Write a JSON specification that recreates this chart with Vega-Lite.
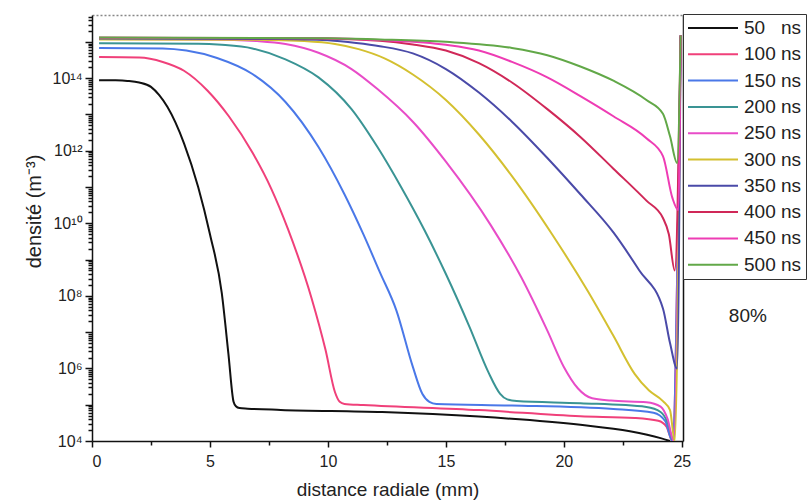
{
  "$schema": "https://vega.github.io/schema/vega-lite/v6.json",
  "width": 591,
  "height": 426,
  "autosize": {"type": "none"},
  "padding": {"left": 92, "top": 15, "right": 126, "bottom": 61},
  "config": {
    "view": {"stroke": null},
    "font": "Liberation Sans",
    "axis": {"labelFont": "Liberation Sans", "titleFont": "Liberation Sans", "labelColor": "#222", "titleColor": "#222", "domainColor": "#111", "tickColor": "#111", "grid": false, "titleFontWeight": "normal"}
  },
  "datasets": {
    "curves": [
      {"t": "50\u00a0\u00a0\u00a0ns", "r": 0.3, "n": 8.8e13},
      {"t": "50\u00a0\u00a0\u00a0ns", "r": 1.0, "n": 8.7e13},
      {"t": "50\u00a0\u00a0\u00a0ns", "r": 1.5, "n": 8.4e13},
      {"t": "50\u00a0\u00a0\u00a0ns", "r": 2.0, "n": 7.6e13},
      {"t": "50\u00a0\u00a0\u00a0ns", "r": 2.5, "n": 5.75e13},
      {"t": "50\u00a0\u00a0\u00a0ns", "r": 2.85, "n": 3.4e13},
      {"t": "50\u00a0\u00a0\u00a0ns", "r": 3.2, "n": 1.6e13},
      {"t": "50\u00a0\u00a0\u00a0ns", "r": 3.9, "n": 1.6e12},
      {"t": "50\u00a0\u00a0\u00a0ns", "r": 4.5, "n": 1.0e11},
      {"t": "50\u00a0\u00a0\u00a0ns", "r": 5.0, "n": 5.0e9},
      {"t": "50\u00a0\u00a0\u00a0ns", "r": 5.5, "n": 1.2e8},
      {"t": "50\u00a0\u00a0\u00a0ns", "r": 5.78, "n": 2.6e6},
      {"t": "50\u00a0\u00a0\u00a0ns", "r": 6.0, "n": 1.2e5},
      {"t": "50\u00a0\u00a0\u00a0ns", "r": 6.1, "n": 9.1e4},
      {"t": "50\u00a0\u00a0\u00a0ns", "r": 6.25, "n": 8.1e4},
      {"t": "50\u00a0\u00a0\u00a0ns", "r": 6.6, "n": 7.8e4},
      {"t": "50\u00a0\u00a0\u00a0ns", "r": 8.0, "n": 7.2e4},
      {"t": "50\u00a0\u00a0\u00a0ns", "r": 12.3, "n": 6.3e4},
      {"t": "50\u00a0\u00a0\u00a0ns", "r": 16.4, "n": 4.7e4},
      {"t": "50\u00a0\u00a0\u00a0ns", "r": 20.7, "n": 2.8e4},
      {"t": "50\u00a0\u00a0\u00a0ns", "r": 22.8, "n": 1.86e4},
      {"t": "50\u00a0\u00a0\u00a0ns", "r": 24.1, "n": 1.2e4},
      {"t": "50\u00a0\u00a0\u00a0ns", "r": 24.5, "n": 1.0e4},

      {"t": "100 ns", "r": 0.3, "n": 3.8e14},
      {"t": "100 ns", "r": 2.0, "n": 3.7e14},
      {"t": "100 ns", "r": 3.0, "n": 2.8e14},
      {"t": "100 ns", "r": 3.9, "n": 1.6e14},
      {"t": "100 ns", "r": 4.9, "n": 4.5e13},
      {"t": "100 ns", "r": 5.8, "n": 8.9e12},
      {"t": "100 ns", "r": 6.8, "n": 8.9e11},
      {"t": "100 ns", "r": 7.6, "n": 8.9e10},
      {"t": "100 ns", "r": 8.3, "n": 7.1e9},
      {"t": "100 ns", "r": 9.3, "n": 8.9e7},
      {"t": "100 ns", "r": 9.9, "n": 3.2e6},
      {"t": "100 ns", "r": 10.3, "n": 2.2e5},
      {"t": "100 ns", "r": 10.5, "n": 1.2e5},
      {"t": "100 ns", "r": 10.7, "n": 1.05e5},
      {"t": "100 ns", "r": 11.5, "n": 9.8e4},
      {"t": "100 ns", "r": 16.4, "n": 7.1e4},
      {"t": "100 ns", "r": 20.7, "n": 4.8e4},
      {"t": "100 ns", "r": 23.0, "n": 4.3e4},
      {"t": "100 ns", "r": 24.0, "n": 3.6e4},
      {"t": "100 ns", "r": 24.35, "n": 2.5e4},
      {"t": "100 ns", "r": 24.6, "n": 1.0e4},
      {"t": "100 ns", "r": 24.95, "n": 1.5e15},

      {"t": "150 ns", "r": 0.3, "n": 6.8e14},
      {"t": "150 ns", "r": 3.0, "n": 6.6e14},
      {"t": "150 ns", "r": 4.0, "n": 5.75e14},
      {"t": "150 ns", "r": 5.3, "n": 3.6e14},
      {"t": "150 ns", "r": 6.8, "n": 1.3e14},
      {"t": "150 ns", "r": 8.2, "n": 2.2e13},
      {"t": "150 ns", "r": 9.6, "n": 1.26e12},
      {"t": "150 ns", "r": 10.7, "n": 6.3e10},
      {"t": "150 ns", "r": 11.5, "n": 5.0e9},
      {"t": "150 ns", "r": 12.2, "n": 4.5e8},
      {"t": "150 ns", "r": 12.9, "n": 4.0e7},
      {"t": "150 ns", "r": 13.6, "n": 1.1e6},
      {"t": "150 ns", "r": 14.0, "n": 2.0e5},
      {"t": "150 ns", "r": 14.3, "n": 1.2e5},
      {"t": "150 ns", "r": 14.6, "n": 1.05e5},
      {"t": "150 ns", "r": 17.8, "n": 9.5e4},
      {"t": "150 ns", "r": 22.1, "n": 7.6e4},
      {"t": "150 ns", "r": 23.8, "n": 6.0e4},
      {"t": "150 ns", "r": 24.3, "n": 3.5e4},
      {"t": "150 ns", "r": 24.6, "n": 1.0e4},
      {"t": "150 ns", "r": 24.95, "n": 1.5e15},

      {"t": "200 ns", "r": 0.3, "n": 9.1e14},
      {"t": "200 ns", "r": 4.5, "n": 8.9e14},
      {"t": "200 ns", "r": 5.5, "n": 8.3e14},
      {"t": "200 ns", "r": 6.8, "n": 6.6e14},
      {"t": "200 ns", "r": 8.2, "n": 3.3e14},
      {"t": "200 ns", "r": 9.6, "n": 1.05e14},
      {"t": "200 ns", "r": 11.0, "n": 1.4e13},
      {"t": "200 ns", "r": 12.1, "n": 1.26e12},
      {"t": "200 ns", "r": 13.1, "n": 1.0e11},
      {"t": "200 ns", "r": 14.1, "n": 6.3e9},
      {"t": "200 ns", "r": 15.0, "n": 4.0e8},
      {"t": "200 ns", "r": 16.0, "n": 1.4e7},
      {"t": "200 ns", "r": 16.8, "n": 7.9e5},
      {"t": "200 ns", "r": 17.3, "n": 2.0e5},
      {"t": "200 ns", "r": 17.6, "n": 1.4e5},
      {"t": "200 ns", "r": 18.0, "n": 1.26e5},
      {"t": "200 ns", "r": 20.7, "n": 1.1e5},
      {"t": "200 ns", "r": 23.5, "n": 8.7e4},
      {"t": "200 ns", "r": 24.1, "n": 6.3e4},
      {"t": "200 ns", "r": 24.4, "n": 3.2e4},
      {"t": "200 ns", "r": 24.65, "n": 1.0e4},
      {"t": "200 ns", "r": 24.95, "n": 1.5e15},

      {"t": "250 ns", "r": 0.3, "n": 1.2e15},
      {"t": "250 ns", "r": 5.0, "n": 1.17e15},
      {"t": "250 ns", "r": 7.0, "n": 1.05e15},
      {"t": "250 ns", "r": 8.2, "n": 8.7e14},
      {"t": "250 ns", "r": 9.6, "n": 5.0e14},
      {"t": "250 ns", "r": 11.0, "n": 1.78e14},
      {"t": "250 ns", "r": 12.1, "n": 5.0e13},
      {"t": "250 ns", "r": 13.6, "n": 6.3e12},
      {"t": "250 ns", "r": 15.0, "n": 5.0e11},
      {"t": "250 ns", "r": 16.9, "n": 8.9e9},
      {"t": "250 ns", "r": 18.2, "n": 3.2e8},
      {"t": "250 ns", "r": 19.3, "n": 1.1e7},
      {"t": "250 ns", "r": 20.0, "n": 1.1e6},
      {"t": "250 ns", "r": 20.6, "n": 2.8e5},
      {"t": "250 ns", "r": 21.2, "n": 1.5e5},
      {"t": "250 ns", "r": 22.0, "n": 1.3e5},
      {"t": "250 ns", "r": 23.5, "n": 1.17e5},
      {"t": "250 ns", "r": 24.1, "n": 8.9e4},
      {"t": "250 ns", "r": 24.4, "n": 4.0e4},
      {"t": "250 ns", "r": 24.65, "n": 1.0e4},
      {"t": "250 ns", "r": 24.95, "n": 1.5e15},

      {"t": "300 ns", "r": 0.3, "n": 1.17e15},
      {"t": "300 ns", "r": 7.0, "n": 1.15e15},
      {"t": "300 ns", "r": 9.0, "n": 1.05e15},
      {"t": "300 ns", "r": 10.3, "n": 8.7e14},
      {"t": "300 ns", "r": 11.3, "n": 6.3e14},
      {"t": "300 ns", "r": 12.4, "n": 3.5e14},
      {"t": "300 ns", "r": 13.6, "n": 1.26e14},
      {"t": "300 ns", "r": 15.0, "n": 2.5e13},
      {"t": "300 ns", "r": 16.4, "n": 2.8e12},
      {"t": "300 ns", "r": 17.8, "n": 2.0e11},
      {"t": "300 ns", "r": 19.5, "n": 5.0e9},
      {"t": "300 ns", "r": 21.0, "n": 1.4e8},
      {"t": "300 ns", "r": 22.1, "n": 7.9e6},
      {"t": "300 ns", "r": 23.0, "n": 7.1e5},
      {"t": "300 ns", "r": 23.6, "n": 2.5e5},
      {"t": "300 ns", "r": 24.2, "n": 1.26e5},
      {"t": "300 ns", "r": 24.5, "n": 7.1e4},
      {"t": "300 ns", "r": 24.7, "n": 1.0e4},
      {"t": "300 ns", "r": 24.95, "n": 1.5e15},

      {"t": "350 ns", "r": 0.3, "n": 1.23e15},
      {"t": "350 ns", "r": 8.0, "n": 1.2e15},
      {"t": "350 ns", "r": 10.0, "n": 1.1e15},
      {"t": "350 ns", "r": 11.2, "n": 9.3e14},
      {"t": "350 ns", "r": 12.2, "n": 7.6e14},
      {"t": "350 ns", "r": 13.6, "n": 4.8e14},
      {"t": "350 ns", "r": 15.0, "n": 1.78e14},
      {"t": "350 ns", "r": 16.4, "n": 4.0e13},
      {"t": "350 ns", "r": 17.8, "n": 6.3e12},
      {"t": "350 ns", "r": 19.3, "n": 6.3e11},
      {"t": "350 ns", "r": 20.7, "n": 6.3e10},
      {"t": "350 ns", "r": 22.1, "n": 5.6e9},
      {"t": "350 ns", "r": 23.2, "n": 5.0e8},
      {"t": "350 ns", "r": 24.2, "n": 4.5e7},
      {"t": "350 ns", "r": 24.5, "n": 5.0e6},
      {"t": "350 ns", "r": 24.8, "n": 1.0e6},
      {"t": "350 ns", "r": 24.95, "n": 1.5e15},

      {"t": "400 ns", "r": 0.3, "n": 1.29e15},
      {"t": "400 ns", "r": 9.0, "n": 1.26e15},
      {"t": "400 ns", "r": 12.2, "n": 1.07e15},
      {"t": "400 ns", "r": 13.6, "n": 8.5e14},
      {"t": "400 ns", "r": 15.0, "n": 5.75e14},
      {"t": "400 ns", "r": 16.4, "n": 2.6e14},
      {"t": "400 ns", "r": 17.8, "n": 7.6e13},
      {"t": "400 ns", "r": 19.3, "n": 1.4e13},
      {"t": "400 ns", "r": 20.7, "n": 2.4e12},
      {"t": "400 ns", "r": 22.1, "n": 3.2e11},
      {"t": "400 ns", "r": 23.5, "n": 4.2e10},
      {"t": "400 ns", "r": 24.2, "n": 1.4e10},
      {"t": "400 ns", "r": 24.45, "n": 5.0e9},
      {"t": "400 ns", "r": 24.7, "n": 5.0e8},
      {"t": "400 ns", "r": 24.95, "n": 1.5e15},

      {"t": "450 ns", "r": 0.3, "n": 1.29e15},
      {"t": "450 ns", "r": 10.0, "n": 1.26e15},
      {"t": "450 ns", "r": 12.2, "n": 1.12e15},
      {"t": "450 ns", "r": 15.0, "n": 8.3e14},
      {"t": "450 ns", "r": 16.4, "n": 5.75e14},
      {"t": "450 ns", "r": 17.8, "n": 2.8e14},
      {"t": "450 ns", "r": 19.3, "n": 1.05e14},
      {"t": "450 ns", "r": 20.7, "n": 3.2e13},
      {"t": "450 ns", "r": 22.1, "n": 8.9e12},
      {"t": "450 ns", "r": 23.5, "n": 2.2e12},
      {"t": "450 ns", "r": 24.2, "n": 7.1e11},
      {"t": "450 ns", "r": 24.6, "n": 5.0e10},
      {"t": "450 ns", "r": 24.85, "n": 2.3e10},
      {"t": "450 ns", "r": 24.95, "n": 1.5e15},

      {"t": "500 ns", "r": 0.3, "n": 1.32e15},
      {"t": "500 ns", "r": 10.0, "n": 1.26e15},
      {"t": "500 ns", "r": 12.2, "n": 1.17e15},
      {"t": "500 ns", "r": 15.0, "n": 1.0e15},
      {"t": "500 ns", "r": 17.8, "n": 6.8e14},
      {"t": "500 ns", "r": 19.3, "n": 4.3e14},
      {"t": "500 ns", "r": 20.7, "n": 2.1e14},
      {"t": "500 ns", "r": 22.1, "n": 8.5e13},
      {"t": "500 ns", "r": 23.5, "n": 2.5e13},
      {"t": "500 ns", "r": 24.2, "n": 1.05e13},
      {"t": "500 ns", "r": 24.5, "n": 2.5e12},
      {"t": "500 ns", "r": 24.8, "n": 4.6e11},
      {"t": "500 ns", "r": 24.95, "n": 1.5e15}
    ],
    "note": [{"label": "80%", "r": 27.8, "n": 2.75e7}]
  },
  "layer": [
    {
      "data": {"name": "curves"},
      "mark": {"type": "line", "strokeWidth": 2, "clip": true, "interpolate": "monotone"},
      "encoding": {
        "x": {
          "field": "r", "type": "quantitative",
          "scale": {"domain": [0, 25.05], "nice": false, "zero": false},
          "axis": {
            "orient": "bottom",
            "values": [0, 2.5, 5, 7.5, 10, 12.5, 15, 17.5, 20, 22.5, 25],
            "labelExpr": "datum.value % 5 == 0 ? datum.label : ''",
            "tickSize": {"condition": {"test": "datum.value % 5 == 0", "value": 6}, "value": 4},
            "tickWidth": 1.5,
            "domainWidth": 1.5,
            "labelFontSize": 16,
            "labelPadding": 6,
            "title": "distance radiale (mm)",
            "titleFontSize": 19,
            "titlePadding": 11
          }
        },
        "y": {
          "field": "n", "type": "quantitative",
          "scale": {"type": "log", "domain": [1e4, 5.5e15], "nice": false},
          "axis": {
            "orient": "left",
            "values": [1e4,2e4,3e4,4e4,5e4,6e4,7e4,8e4,9e4,1e5,2e5,3e5,4e5,5e5,6e5,7e5,8e5,9e5,1e6,2e6,3e6,4e6,5e6,6e6,7e6,8e6,9e6,1e7,2e7,3e7,4e7,5e7,6e7,7e7,8e7,9e7,1e8,2e8,3e8,4e8,5e8,6e8,7e8,8e8,9e8,1e9,2e9,3e9,4e9,5e9,6e9,7e9,8e9,9e9,1e10,2e10,3e10,4e10,5e10,6e10,7e10,8e10,9e10,1e11,2e11,3e11,4e11,5e11,6e11,7e11,8e11,9e11,1e12,2e12,3e12,4e12,5e12,6e12,7e12,8e12,9e12,1e13,2e13,3e13,4e13,5e13,6e13,7e13,8e13,9e13,1e14,2e14,3e14,4e14,5e14,6e14,7e14,8e14,9e14,1e15,2e15,3e15,4e15,5e15],
            "labelExpr": "abs(log(datum.value)/LN10 - 4) < 1e-6 ? '10⁴' : abs(log(datum.value)/LN10 - 6) < 1e-6 ? '10⁶' : abs(log(datum.value)/LN10 - 8) < 1e-6 ? '10⁸' : abs(log(datum.value)/LN10 - 10) < 1e-6 ? '10¹⁰' : abs(log(datum.value)/LN10 - 12) < 1e-6 ? '10¹²' : abs(log(datum.value)/LN10 - 14) < 1e-6 ? '10¹⁴' : ''",
            "labelOverlap": false,
            "tickSize": {"condition": {"test": "abs(log(datum.value)/LN10 - round(log(datum.value)/LN10)) < 1e-6", "value": 7}, "value": 4},
            "tickWidth": 1.5,
            "domainWidth": 1.5,
            "labelFontSize": 16,
            "labelPadding": 3,
            "title": "densité (m⁻³)",
            "titleFontSize": 20,
            "titlePadding": 8,
            "titleY": 196
          }
        },
        "color": {
          "field": "t", "type": "nominal",
          "scale": {
            "domain": ["50\u00a0\u00a0\u00a0ns", "100 ns", "150 ns", "200 ns", "250 ns", "300 ns", "350 ns", "400 ns", "450 ns", "500 ns"],
            "range": ["#111111", "#f0407a", "#4a78e8", "#3a9494", "#e84cc8", "#d4c030", "#4a4aa8", "#d02858", "#ee3cb4", "#62a848"]
          },
          "legend": {
            "orient": "none",
            "legendX": 591,
            "legendY": -1,
            "title": null,
            "symbolType": "stroke",
            "symbolSize": 2500,
            "symbolStrokeWidth": 2,
            "clipHeight": 20,
            "rowPadding": 6.3,
            "padding": 4,
            "labelOffset": 5,
            "labelFont": "Liberation Sans",
            "labelFontSize": 19,
            "labelColor": "#222",
            "strokeColor": "#333",
            "fillColor": "white",
            "labelLimit": 200
          }
        }
      }
    },
    {
      "data": {"name": "note"},
      "mark": {"type": "text", "fontSize": 19, "font": "Liberation Sans", "color": "#222", "clip": false},
      "encoding": {
        "x": {
          "field": "r", "type": "quantitative",
          "scale": {"domain": [0, 25.05], "nice": false, "zero": false},
          "axis": {"orient": "top", "ticks": false, "labels": false, "title": null, "domainColor": "#888", "domainDash": [2, 2], "domainWidth": 1.5}
        },
        "y": {
          "field": "n", "type": "quantitative",
          "scale": {"type": "log", "domain": [1e4, 5.5e15], "nice": false},
          "axis": {"orient": "right", "ticks": false, "labels": false, "title": null, "domainColor": "#111", "domainWidth": 1.5}
        },
        "text": {"field": "label"}
      }
    }
  ],
  "resolve": {"axis": {"x": "independent", "y": "independent"}}
}
